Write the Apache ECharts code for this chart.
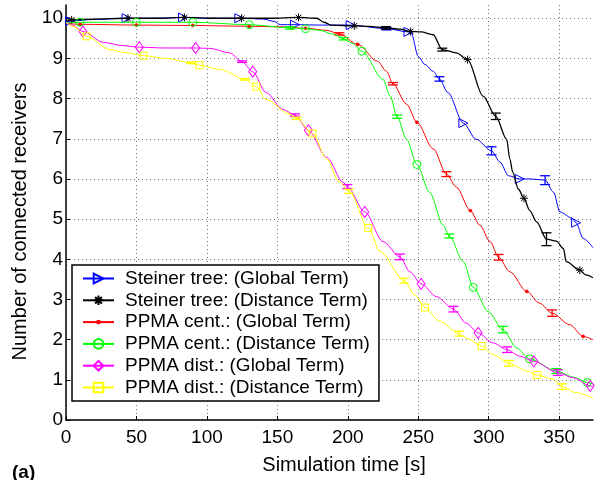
<!DOCTYPE html>
<html>
<head>
<meta charset="utf-8">
<script src="https://cdn.jsdelivr.net/npm/echarts@6/dist/echarts.min.js"></script>
<style>
  html, body { margin: 0; padding: 0; background: #fff; }
  #chart { width: 603px; height: 480px; }
</style>
</head>
<body>
<div id="chart"></div>
<script>
// series names
const names = [
  'Steiner tree: (Global Term)',
  'Steiner tree: (Distance Term)',
  'PPMA cent.: (Global Term)',
  'PPMA cent.: (Distance Term)',
  'PPMA dist.: (Global Term)',
  'PPMA dist.: (Distance Term)'
]
const xTicks = [0, 50, 100, 150, 200, 250, 300, 350]
const yTicks = [0, 1, 2, 3, 4, 5, 6, 7, 8, 9, 10]

// [time, receivers] curve shape points
const blueCurve = [[0, 9.9], [20, 9.97], [63, 10.0], [103, 10.0], [140, 9.98], [148, 9.92], [152, 9.84], [182, 9.83], [245, 9.63], [250, 9.05], [254.7, 8.85], [260.6, 8.68], [271, 8.15], [291, 6.99], [308, 6.42], [314, 6.08], [330, 6.0], [346, 5.67], [350.5, 5.18], [358.8, 5.03], [367, 4.52], [374, 4.29]]
const blueMarks = [[3, 9.93], [43, 10.0], [83, 10.02], [123, 10.0], [162.5, 9.84], [202, 9.83], [243, 9.66], [282, 7.39], [322, 6.0], [362, 4.91]]
const blueErr = [[227.5, 9.74, 0.03], [265, 8.49, 0.055], [302, 6.7, 0.1], [340, 5.97, 0.11]]

const blackCurve = [[0, 9.93], [20, 9.98], [64, 10.0], [104, 10.0], [145, 10.0], [178, 10.0], [183, 9.9], [188, 9.83], [215, 9.8], [237, 9.73], [252, 9.66], [260.6, 9.59], [277, 9.14], [296, 8.06], [312.7, 6.99], [315, 6.5], [317, 6.17], [321, 5.75], [329, 5.22], [334, 4.93], [348, 4.45], [353, 4.27], [355, 3.94], [369, 3.61], [374, 3.54]]
const blackMarks = [[4, 9.96], [44, 10.0], [84, 10.02], [124.6, 10.0], [165, 10.02], [204.6, 9.81], [244.6, 9.67], [285, 8.97], [325, 5.52], [364.7, 3.73]]
const blackErr = [[227, 9.76, 0.03], [267, 9.22, 0.035], [305, 7.56, 0.08], [341, 4.5, 0.16]]

const redCurve = [[0, 9.87], [150, 9.79], [185, 9.7], [221, 8.93], [227.5, 8.68], [241.7, 7.86], [260.6, 6.75], [277, 5.8], [293.7, 4.85], [301, 4.44], [315, 3.69], [336, 2.91], [357.6, 2.37], [374, 2.0]]
const redMarks = [[10, 9.85], [50, 9.83], [90, 9.82], [130, 9.8], [170, 9.75], [207, 9.35], [249, 7.41], [287, 5.21], [327, 3.2], [367, 2.08]]
const redErr = [[194, 9.61, 0.03], [232, 8.37, 0.03], [270, 6.12, 0.06], [307, 4.05, 0.07], [345, 2.66, 0.08]]

const greenCurve = [[0, 9.88], [180, 9.7], [190, 9.6], [203, 9.38], [225, 8.48], [230, 8.07], [241.7, 6.99], [258, 5.67], [267.7, 4.85], [282, 3.94], [299.6, 2.7], [320, 1.79], [360, 1.07], [374, 0.9]]
const greenMarks = [[10, 9.9], [50, 9.9], [90, 9.9], [130, 9.84], [170, 9.74], [210, 9.18], [249, 6.36], [289, 3.3], [329, 1.52], [370, 0.93]]
const greenErr = [[159, 9.76, 0.03], [197, 9.49, 0.03], [235, 7.55, 0.04], [272, 4.58, 0.05], [310, 2.25, 0.08], [348, 1.22, 0.06]]

const magentaCurve = [[0, 9.9], [5, 9.82], [26.5, 9.4], [40, 9.32], [70, 9.26], [102, 9.25], [116, 9.14], [142, 8.15], [154, 7.73], [185, 6.54], [196.7, 5.92], [225, 4.44], [244, 3.69], [263, 3.07], [284, 2.41], [303, 1.92], [322, 1.59], [360, 1.05], [374, 0.82]]
const magentaMarks = [[12, 9.67], [52, 9.28], [92, 9.26], [132.5, 8.67], [172, 7.21], [212, 5.18], [252, 3.39], [292.5, 2.17], [332, 1.46], [372, 0.85]]
const magentaErr = [[125, 8.92, 0.02], [162.5, 7.59, 0.03], [199.6, 5.81, 0.05], [237, 4.06, 0.07], [275, 2.76, 0.07], [313, 1.75, 0.07], [349, 1.18, 0.07]]

const yellowCurve = [[0, 9.9], [5, 9.8], [31, 9.22], [43, 9.14], [71, 9.0], [109, 8.73], [142, 7.98], [159, 7.61], [185, 6.5], [194, 5.92], [223, 4.19], [247.6, 3.11], [265, 2.46], [284, 2.04], [303, 1.63], [327, 1.22], [346, 1.01], [362, 0.68], [374, 0.54]]
const yellowMarks = [[14.7, 9.55], [55, 9.07], [94.6, 8.83], [135, 8.3], [175, 7.13], [214.5, 4.78], [254.7, 2.8], [295, 1.84], [334.4, 1.12]]
const yellowErr = [[89, 8.89, 0.02], [127, 8.48, 0.02], [163.7, 7.51, 0.03], [201, 5.69, 0.05], [240, 3.47, 0.06], [279, 2.15, 0.06], [314.5, 1.41, 0.07], [352, 0.83, 0.07]]

const font = '"Liberation Sans", Arial, Helvetica, sans-serif'
const star = 'path://M5,0L5,10M0,5L10,5M1.5,1.5L8.5,8.5M1.5,8.5L8.5,1.5'
// small dot inside a 10x10 box, so the legend icon stays a dot too
const dot = 'path://M0,0M10,10M3.6,5A1.4,1.4,0,1,1,6.4,5A1.4,1.4,0,1,1,3.6,5Z'

const styles = [
  { color: '#0000ff', symbol: 'triangle', size: 9, rotate: -90, fill: 'rgba(255,255,255,0)', width: 1 },
  { color: '#000000', symbol: star, size: 8, rotate: 0, fill: '#000', width: 1.3 },
  { color: '#ff0000', symbol: dot, size: 10, rotate: 0, fill: '#ff0000', width: 1 },
  { color: '#00ff00', symbol: 'circle', size: 8, rotate: 0, fill: 'rgba(255,255,255,0)', width: 1 },
  { color: '#ff00ff', symbol: 'diamond', size: [8, 11], rotate: 0, fill: 'rgba(255,255,255,0)', width: 1 },
  { color: '#ffff00', symbol: 'rect', size: 7, rotate: 0, fill: 'rgba(255,255,255,0)', width: 1 }
]
const curves = [blueCurve, blackCurve, redCurve, greenCurve, magentaCurve, yellowCurve]
const marks = [blueMarks, blackMarks, redMarks, greenMarks, magentaMarks, yellowMarks]
const errs = [blueErr, blackErr, redErr, greenErr, magentaErr, yellowErr]

function lineData(curve, mk, er) {
  const pts = curve.map(p => ({ value: p, symbol: 'none' }))
    .concat(er.map(e => ({ value: [e[0], e[1]], symbol: 'none' })))
    .concat(mk.map(p => ({ value: p })))
  pts.sort((a, b) => a.value[0] - b.value[0])
  return pts
}

function errRender(color) {
  return function (params, api) {
    const t = api.value(0), v = api.value(1), h = api.value(2)
    const top = api.coord([t, v + h])
    const bot = api.coord([t, v - h])
    const w = 5
    const style = { stroke: color, lineWidth: 1.3 }
    return {
      type: 'group',
      children: [
        { type: 'line', shape: { x1: top[0], y1: top[1], x2: bot[0], y2: bot[1] }, style },
        { type: 'line', shape: { x1: top[0] - w, y1: top[1], x2: top[0] + w, y2: top[1] }, style },
        { type: 'line', shape: { x1: bot[0] - w, y1: bot[1], x2: bot[0] + w, y2: bot[1] }, style }
      ]
    }
  }
}

const series = []
names.forEach((name, i) => {
  const s = styles[i]
  series.push({
    name, type: 'line', smooth: 0.3, smoothMonotone: 'x',
    data: lineData(curves[i], marks[i], errs[i]),
    symbol: s.symbol, symbolSize: s.size, symbolRotate: s.rotate,
    showSymbol: true, showAllSymbol: true,
    lineStyle: { color: s.color, width: s.width },
    itemStyle: { color: s.fill, borderColor: s.color, borderWidth: 1 },
    emphasis: { disabled: true },
    z: 2 + i
  })
  series.push({
    name: name + ' err', type: 'custom',
    data: errs[i], encode: { x: 0, y: 1 },
    renderItem: errRender(s.color),
    z: 2 + i
  })
})

const chart = echarts.init(document.getElementById('chart'))
chart.setOption({
  animation: false,
  grid: { left: 66, right: 10, top: 5, bottom: 58 },
  xAxis: {
    type: 'value', min: 0, max: 374, interval: 50,
    name: 'Simulation time [s]', nameLocation: 'middle', nameGap: 35,
    nameTextStyle: { fontSize: 20, fontFamily: font, color: '#000', padding: [0, 0, 0, 29] },
    axisLine: { lineStyle: { color: '#000', width: 1.5 } },
    axisTick: { inside: true, length: 4, lineStyle: { color: '#000' } },
    axisLabel: {
      fontSize: 19, fontFamily: font, color: '#000', margin: 8, showMaxLabel: false,
      formatter: v => xTicks.includes(v) ? String(v) : ''
    },
    splitLine: { show: true, showMaxLine: false, lineStyle: { color: '#777', type: [1, 3], width: 1 } }
  },
  yAxis: {
    type: 'value', min: 0, max: 10.33, interval: 1,
    name: 'Number of connected receivers', nameLocation: 'middle', nameGap: 35, nameRotate: 90,
    nameTextStyle: { fontSize: 20, fontFamily: font, color: '#000', padding: [0, 18, 0, 0] },
    axisLine: { show: true, lineStyle: { color: '#000', width: 1.5 } },
    axisTick: { show: true, inside: true, length: 4, lineStyle: { color: '#000' } },
    axisLabel: {
      fontSize: 19, fontFamily: font, color: '#000', margin: 3, showMaxLabel: false,
      formatter: v => yTicks.includes(v) ? String(v) : ''
    },
    splitLine: { show: true, showMaxLine: false, lineStyle: { color: '#777', type: [1, 3], width: 1 } }
  },
  legend: {
    data: names, orient: 'vertical', left: 72, top: 265,
    padding: [4, 9, 4, 10], itemWidth: 31, itemHeight: 12, itemGap: 2.8,
    backgroundColor: '#fff', borderColor: '#000', borderWidth: 1.5, borderRadius: 0,
    selectedMode: false,
    textStyle: { fontSize: 19, fontFamily: font, color: '#000', lineHeight: 18, padding: [0, 0, 0, 6] }
  },
  title: {
    text: '(a)', left: 12, top: 463,
    textStyle: { fontSize: 19, fontWeight: 'bold', fontFamily: font, color: '#000' },
    padding: 0
  },
  series
})
</script>
</body>
</html>
